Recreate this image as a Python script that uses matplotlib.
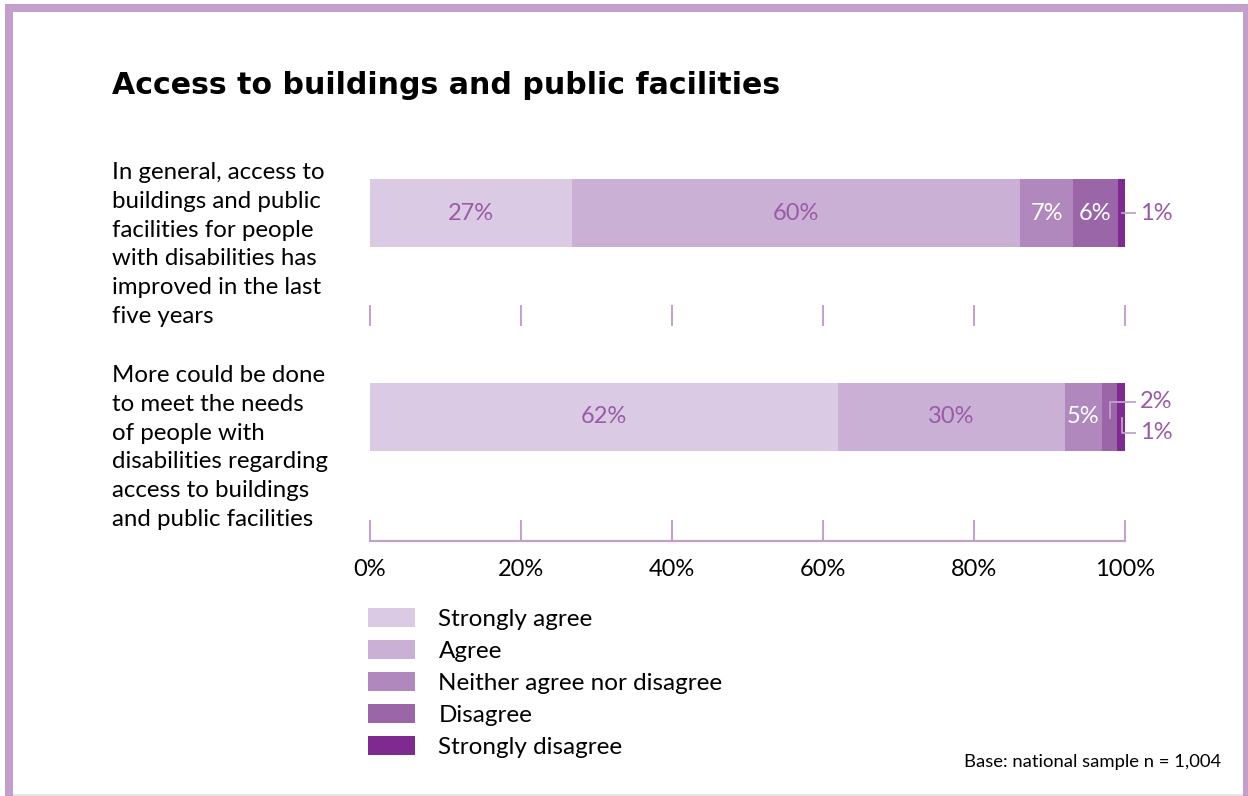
import numpy as np
import matplotlib.pyplot as plt
from matplotlib.patches import Rectangle

# survey responses, percent of respondents
statements = [
    "In general, access to\nbuildings and public\nfacilities for people\nwith disabilities has\nimproved in the last\nfive years",
    "More could be done\nto meet the needs\nof people with\ndisabilities regarding\naccess to buildings\nand public facilities",
]
responses = ["Strongly agree", "Agree", "Neither agree nor disagree",
             "Disagree", "Strongly disagree"]
improved = [27, 60, 7, 6, 1]
more_done = [62, 30, 5, 2, 1]
colors = ["#dacae3", "#cbb0d5", "#b088bd", "#9a66a8", "#7f2a8f"]
ticks = [0, 20, 40, 60, 80, 100]
tick_labels = ["0%", "20%", "40%", "60%", "80%", "100%"]

W, H = 1248, 796
fig = plt.figure(figsize=(W / 100, H / 100), dpi=100)
plt.rcParams['font.family'] = ['Lato', 'DejaVu Sans']

purple = "#c3a0cc"
lab_purple = "#9b5aa8"

# frame round the panel
fig.add_artist(Rectangle((5 / W, 1 - 12 / H), 1238 / W, 8 / H, transform=fig.transFigure,
                         color=purple, lw=0))
fig.add_artist(Rectangle((5 / W, 0), 8 / W, 1 - 4 / H, transform=fig.transFigure,
                         color=purple, lw=0))
fig.add_artist(Rectangle((1243 / W, 0), 5 / W, 1 - 4 / H, transform=fig.transFigure,
                         color=purple, lw=0))
fig.add_artist(Rectangle((13 / W, 0), 1230 / W, 2 / H, transform=fig.transFigure,
                         color="#e6e3e8", lw=0))

fig.text(112 / W, 1 - 86 / H, "Access to buildings and public facilities",
         fontsize=21.6, fontweight="bold", family=["DejaVu Sans"], va="center")

x0, x1 = 370, 1125
ytop, ybot = 150, 541
ax = fig.add_axes([x0 / W, 1 - ybot / H, (x1 - x0) / W, (ybot - ytop) / H])
ax.set_xlim(0, 100)
ax.set_ylim(1.608, -0.309)

rows = [improved, more_done]
bar_h = 0.333
for r, vals in enumerate(rows):
    vals = np.array(vals, dtype=float)
    widths = vals / vals.sum() * 100
    lefts = np.concatenate([[0], np.cumsum(widths)[:-1]])
    for i in range(len(vals)):
        ax.barh(r, widths[i], left=lefts[i], height=bar_h, color=colors[i],
                label=responses[i] if r == 0 else None)
    centers = lefts + widths / 2
    for i, v in enumerate(vals):
        txt = f"{int(v)}%"
        if v >= 5:
            c = lab_purple if i < 2 else "white"
            ax.text(centers[i], r, txt, ha="center", va="center", fontsize=17, color=c)

# small values labelled outside with leader lines
ax.plot([99.6, 101.3], [0, 0], color=purple, lw=1.3, clip_on=False)
ax.text(102, 0, "1%", va="center", fontsize=17, color=lab_purple, clip_on=False)

vals = np.array(more_done, dtype=float)
cum = np.cumsum(vals)
c2 = cum[3] - vals[3] / 2
c1 = cum[4] - vals[4] / 2
ax.plot([c2, c2, 101.3], [1.005, 1 - 0.074, 1 - 0.074], color=purple, lw=1.3, clip_on=False)
ax.plot([c1 + 0.1, c1 + 0.1, 101.3], [1.005, 1.078, 1.078], color=purple, lw=1.3, clip_on=False)
ax.text(102, 1 - 0.074, "2%", va="center", fontsize=17, color=lab_purple, clip_on=False)
ax.text(102, 1.078, "1%", va="center", fontsize=17, color=lab_purple, clip_on=False)

# gridline ticks between the bars
ax.vlines(ticks, 0.451, 0.554, color=purple, lw=1.4, clip_on=False)

for s in ["top", "left", "right"]:
    ax.spines[s].set_visible(False)
ax.spines["bottom"].set_color(purple)
ax.spines["bottom"].set_linewidth(1.6)
ax.set_yticks([])
ax.set_xticks(ticks)
ax.set_xticklabels(tick_labels, fontsize=17)
ax.tick_params(axis="x", direction="in", length=15, width=1.4, color=purple, pad=13)
for t in ax.xaxis.get_major_ticks():
    t.tick1line.set_clip_on(False)

fig.text(112 / W, 1 - 162 / H, statements[0], fontsize=17.3, va="top", linespacing=1.46)
fig.text(112 / W, 1 - 365 / H, statements[1], fontsize=17.3, va="top", linespacing=1.46)

handles, labels = ax.get_legend_handles_labels()
fig.legend(handles, labels, loc="upper left", bbox_to_anchor=(368 / W, 1 - 608 / H),
           frameon=False, fontsize=17.5, handlelength=1.95, handleheight=0.82,
           labelspacing=0.42, handletextpad=0.95, borderpad=0, borderaxespad=0)

fig.text(1221 / W, 1 - 762 / H, "Base: national sample n = 1,004", fontsize=13.3,
         ha="right", va="center")

fig.savefig("out.png", dpi=100)
